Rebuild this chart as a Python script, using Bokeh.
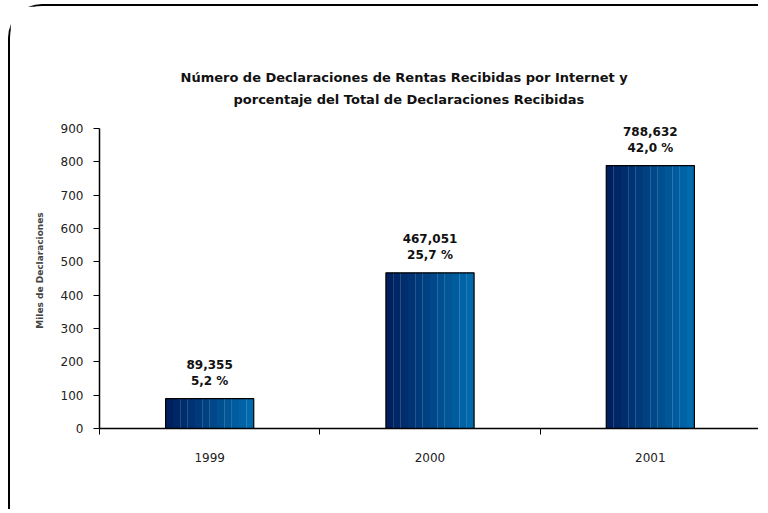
from bokeh.plotting import figure
from bokeh.models import ColumnDataSource, Range1d, FixedTicker, Title
from bokeh.embed import file_html
from bokeh.resources import INLINE
from bokeh.core.properties import value

# ---- data ----
years = ["1999", "2000", "2001"]
declaraciones_miles = [89.355, 467.051, 788.632]
valor_labels = ["89,355", "467,051", "788,632"]
pct_labels = ["5,2 %", "25,7 %", "42,0 %"]
y_ticks = [0, 100, 200, 300, 400, 500, 600, 700, 800, 900]
title_lines = ["Número de Declaraciones de Rentas Recibidas por Internet y",
               "porcentaje del Total de Declaraciones Recibidas"]
y_label = "Miles de Declaraciones"

# ---- styling helpers ----
BAR_W = 0.4
N_STRIPS = 12
c_left = (0x00, 0x1f, 0x5e)
c_right = (0x00, 0x6a, 0xad)

def lerp(a, b, t):
    return "#%02x%02x%02x" % tuple(int(round(a[j] + (b[j] - a[j]) * t)) for j in range(3))

centers = [i + 0.5 for i in range(len(years))]

strip_x, strip_top, strip_col = [], [], []
for c, v in zip(centers, declaraciones_miles):
    for k in range(N_STRIPS):
        strip_x.append(c - BAR_W / 2 + (k + 0.5) * BAR_W / N_STRIPS)
        strip_top.append(v)
        strip_col.append(lerp(c_left, c_right, k / (N_STRIPS - 1)))

p = figure(width=750, height=505, x_range=Range1d(0, len(years)), y_range=Range1d(0, 948),
           output_backend="svg", toolbar_location=None,
           min_border_left=89, min_border_right=0, min_border_top=106, min_border_bottom=83)
p.styles = {"margin-left": "8px", "margin-top": "4px",
            "border-left": "2px solid black", "border-top": "2px solid black",
            "border-top-left-radius": "34px"}
p.outline_line_color = None
p.xgrid.visible = False
p.ygrid.visible = False
p.background_fill_color = "white"
p.border_fill_color = "white"

p.vbar(x=strip_x, top=strip_top, bottom=0, width=BAR_W / N_STRIPS * 1.02,
       fill_color=strip_col, line_color=None)
p.vbar(x=centers, top=declaraciones_miles, bottom=0, width=BAR_W,
       fill_color=None, line_color="black", line_width=1.2)

src = ColumnDataSource(dict(x=centers, y=declaraciones_miles,
                            t=[a + "\n" + b for a, b in zip(valor_labels, pct_labels)]))
p.text(x="x", y="y", text="t", source=src, text_align="center", text_baseline="bottom",
       y_offset=-11, text_font=value("DejaVu Sans"), text_font_style="bold",
       text_font_size="12px", text_color="#111111", text_line_height=1.15)

# axes
xa = p.xaxis[0]
xa.ticker = FixedTicker(ticks=centers, minor_ticks=list(range(len(years) + 1)))
xa.major_label_overrides = {c: y for c, y in zip(centers, years)}
xa.major_tick_line_color = None
xa.major_tick_out = 0
xa.major_tick_in = 0
xa.minor_tick_in = 0
xa.minor_tick_out = 6
xa.minor_tick_line_color = "black"
xa.axis_line_color = "black"
xa.axis_line_width = 1.5
xa.major_label_standoff = 18
xa.major_label_text_font = "DejaVu Sans"
xa.major_label_text_font_size = "12px"
xa.major_label_text_color = "#222222"

ya = p.yaxis[0]
ya.ticker = FixedTicker(ticks=y_ticks)
ya.bounds = (0, 900)
ya.minor_tick_line_color = None
ya.major_tick_in = 0
ya.major_tick_out = 6
ya.axis_line_width = 1.5
ya.major_label_standoff = 10
ya.major_label_text_font = "DejaVu Sans"
ya.major_label_text_font_size = "12px"
ya.major_label_text_color = "#222222"
ya.axis_label = y_label
ya.axis_label_text_font = "DejaVu Sans"
ya.axis_label_text_font_style = "bold"
ya.axis_label_text_font_size = "9px"
ya.axis_label_standoff = 13

# two title lines (second line added first: it sits closest to the plot)
p.add_layout(Title(text=title_lines[1], align="left", offset=134, standoff=11,
                   text_font="DejaVu Sans", text_font_style="bold",
                   text_font_size="13px", text_color="#111111"), "above")
p.add_layout(Title(text=title_lines[0], align="left", offset=81, standoff=0,
                   text_font="DejaVu Sans", text_font_style="bold",
                   text_font_size="13px", text_color="#111111"), "above")

open("out.html", "w").write(file_html(p, INLINE))
